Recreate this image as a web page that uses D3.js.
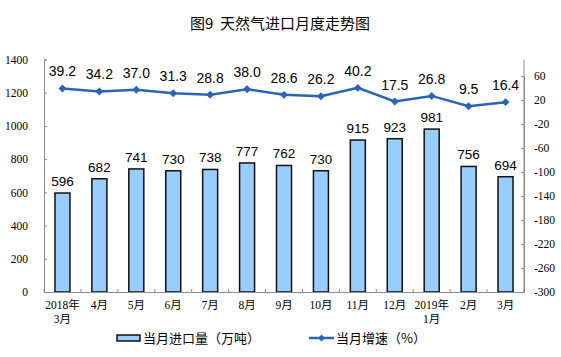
<!DOCTYPE html>
<html><head><meta charset="utf-8">
<script src="https://cdn.jsdelivr.net/npm/d3@7"></script>
<style>body{margin:0;background:#fff}svg{display:block}</style>
</head><body>
<script>
const categories = ["2018年\n3月","4月","5月","6月","7月","8月","9月","10月","11月","12月","2019年\n1月","2月","3月"];
const importVolume = [596,682,741,730,738,777,762,730,915,923,981,756,694];
const growthRate = [39.2,34.2,37.0,31.3,28.8,38.0,28.6,26.2,40.2,17.5,26.8,9.5,16.4];
const leftTicks = [0,200,400,600,800,1000,1200,1400];
const rightTicks = [-300,-260,-220,-180,-140,-100,-60,-20,20,60];
const title = "图9\u00a0\u00a0天然气进口月度走势图";
const legendBar = "当月进口量（万吨）";
const legendLine = "当月增速（%）";

const W=561,H=357;
const svg=d3.select("body").append("svg").attr("width",W).attr("height",H);
const x0=44,x1=524,yTop=59.5,yBot=292;
const xb=d3.scaleBand().domain(categories).range([x0,x1]);
const yL=d3.scaleLinear().domain([0,1400]).range([yBot,yTop]);
const yR=d3.scaleLinear().domain([-300,60]).range([yBot,76]);
const axisColor="#8c8c8c";
const tickFont="'Liberation Serif','Times New Roman','Noto Sans CJK SC',serif";

svg.append("text").attr("x",280).attr("y",29).attr("text-anchor","middle")
  .attr("font-family","'Noto Sans CJK SC',sans-serif").attr("font-size",15).attr("fill","#000").text(title);

// bars
svg.append("g").selectAll("rect").data(importVolume).join("rect")
  .attr("x",(d,i)=>xb(categories[i])+xb.bandwidth()/2-7.5)
  .attr("width",15)
  .attr("y",d=>yL(d)).attr("height",d=>yBot-yL(d))
  .attr("fill","#99ccff").attr("stroke","#111").attr("stroke-width",1.5);
svg.append("g").selectAll("text").data(importVolume).join("text")
  .attr("x",(d,i)=>xb(categories[i])+xb.bandwidth()/2)
  .attr("y",d=>yL(d)-7)
  .attr("text-anchor","middle").attr("font-family","'Liberation Sans',Arial,sans-serif")
  .attr("font-size",13.5).attr("fill","#000").text(d=>d);

// axes
const fmt=d=>String(d);
const gL=svg.append("g").attr("transform",`translate(${x0},0)`)
  .call(d3.axisLeft(yL).tickValues(leftTicks).tickFormat(fmt).tickSize(-3).tickPadding(16));
const gR=svg.append("g").attr("transform",`translate(${x1},0)`)
  .call(d3.axisRight(yR).tickValues(rightTicks).tickFormat(fmt).tickSize(-3).tickPadding(12));
svg.append("line").attr("x1",x1).attr("x2",x1).attr("y1",yTop).attr("y2",yBot).attr("stroke",axisColor);
const gX=svg.append("g").attr("transform",`translate(0,${yBot})`)
  .call(d3.axisBottom(xb).tickSize(0).tickFormat(""));
[gL,gR,gX].forEach(g=>{
  g.select(".domain").attr("stroke",axisColor);
  g.selectAll(".tick line").attr("stroke",axisColor);
  g.selectAll("text").attr("font-family",tickFont).attr("font-size",11.5).attr("fill","#000");
});
gR.selectAll(".tick text").attr("text-anchor","start").attr("dx",-2);
// x boundary ticks
svg.append("g").selectAll("line").data(d3.range(categories.length+1)).join("line")
  .attr("x1",i=>x0+i*xb.step()).attr("x2",i=>x0+i*xb.step())
  .attr("y1",yBot).attr("y2",yBot-3).attr("stroke",axisColor);
// x labels
const xl=svg.append("g").selectAll("text").data(categories).join("text")
  .attr("text-anchor","middle").attr("font-family",tickFont).attr("font-size",11.5).attr("fill","#000");
xl.each(function(d){
  const t=d3.select(this); const cx=xb(d)+xb.bandwidth()/2;
  d.split("\n").forEach((s,j)=>t.append("tspan").attr("x",cx).attr("y",309+j*14).text(s));
});

// line
const lineGen=d3.line().x((d,i)=>xb(categories[i])+xb.bandwidth()/2).y(d=>yR(d));
svg.append("path").datum(growthRate).attr("d",lineGen).attr("fill","none")
  .attr("stroke","#2a64b8").attr("stroke-width",2.5);
svg.append("g").selectAll("path").data(growthRate).join("path")
  .attr("d",d3.symbol(d3.symbolDiamond2,40))
  .attr("transform",(d,i)=>`translate(${xb(categories[i])+xb.bandwidth()/2},${yR(d)})`)
  .attr("fill","#2a64b8");
svg.append("g").selectAll("text").data(growthRate).join("text")
  .attr("x",(d,i)=>xb(categories[i])+xb.bandwidth()/2)
  .attr("y",d=>yR(d)-12)
  .attr("text-anchor","middle").attr("font-family","'Liberation Sans',Arial,sans-serif")
  .attr("font-size",14).attr("fill","#000").text(d=>d.toFixed(1));

// legend
const lg=svg.append("g");
lg.append("rect").attr("x",117).attr("y",335).attr("width",23).attr("height",6)
  .attr("fill","#99ccff").attr("stroke","#111").attr("stroke-width",1.5);
lg.append("text").attr("x",143).attr("y",343).attr("font-family","'Noto Sans CJK SC',sans-serif")
  .attr("font-size",13).text(legendBar);
lg.append("line").attr("x1",309).attr("x2",334).attr("y1",338).attr("y2",338).attr("stroke","#2a64b8").attr("stroke-width",2.5);
lg.append("path").attr("d",d3.symbol(d3.symbolDiamond2,30)).attr("transform","translate(321.5,338)").attr("fill","#2a64b8");
lg.append("text").attr("x",336).attr("y",343).attr("font-family","'Noto Sans CJK SC',sans-serif")
  .attr("font-size",13).text(legendLine);
</script>
</body></html>
